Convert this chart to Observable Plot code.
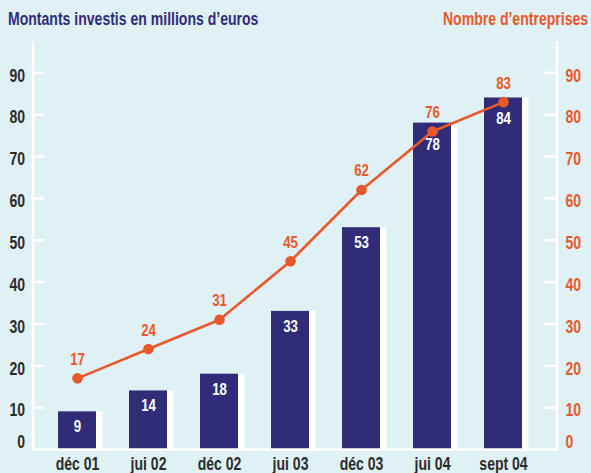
<!DOCTYPE html>
<html>
<head>
<meta charset="utf-8">
<script src="https://cdn.jsdelivr.net/npm/d3@7"></script>
<script src="https://cdn.jsdelivr.net/npm/@observablehq/plot@0.6"></script>
<style>
  html, body { margin: 0; padding: 0; background: #dff1f4; }
  body { width: 591px; height: 473px; overflow: hidden; font-family: "Liberation Sans", Arial, sans-serif; font-weight: bold; }
  #header { position: relative; height: 36px; }
  #header span { position: absolute; top: 9px; font-size: 18px; line-height: normal; white-space: nowrap; display: inline-block; transform: scaleX(0.78); }
  #tl { left: 8px; color: #2f2d7a; transform-origin: left center; }
  #tr { right: 3px; color: #e8582a; transform-origin: right center; }
  #chart svg { display: block; background: transparent; }
</style>
</head>
<body>
<div id="header"><span id="tl">Montants investis en millions d’euros</span><span id="tr">Nombre d’entreprises</span></div>
<div id="chart"></div>
<script>
const periodes = ["déc 01", "jui 02", "déc 02", "jui 03", "déc 03", "jui 04", "sept 04"];
const montants = [9, 14, 18, 33, 53, 78, 84];
const entreprises = [17, 24, 31, 45, 62, 76, 83];
const ticksY = [0, 10, 20, 30, 40, 50, 60, 70, 80, 90];

const navy = "#312c78";
const orange = "#e8582a";
const dark = "#2b2b2b";
const font = "'Liberation Sans', Arial, sans-serif";
const condense = 0.78;

const data = periodes.map((p, i) => ({periode: p, montant: montants[i], entreprises: entreprises[i]}));
const close = data.filter(d => Math.abs(d.montant - d.entreprises) < 4);
const far = data.filter(d => Math.abs(d.montant - d.entreprises) >= 4);
const ticksIn = ticksY.filter(t => t > 0);
const frameW = 524;

const chart = Plot.plot({
  width: 591,
  height: 437,
  marginLeft: 32.5,
  marginRight: 34.5,
  marginTop: 6,
  marginBottom: 24,
  style: {background: "transparent", fontFamily: font, fontWeight: "bold", fontSize: "18px"},
  x: {type: "band", domain: periodes, range: [26.2, 554.8], paddingInner: 0.458, paddingOuter: 0.4},
  y: {domain: [0, 90], range: [413, 36.35]},
  marks: [
    Plot.barY(data, {x: "periode", y: "montant", fill: "white", dx: 6.5}),
    Plot.barY(data, {x: "periode", y: "montant", fill: navy}),
    Plot.frame({anchor: "left", stroke: "white", strokeWidth: 2.5}),
    Plot.frame({anchor: "right", stroke: "white", strokeWidth: 2.5}),
    Plot.frame({anchor: "bottom", stroke: "white", strokeWidth: 2.7}),
    Plot.ruleY(ticksIn, {stroke: "white", strokeWidth: 2.5, insetRight: frameW - 11.5}),
    Plot.ruleY(ticksIn, {stroke: "white", strokeWidth: 2.5, insetLeft: frameW - 12}),
    Plot.axisY(ticksIn, {anchor: "left", tickSize: 0, tickPadding: 8, dy: 3, color: dark, label: null, fontSize: 18, fontWeight: "bold"}),
    Plot.axisY([0], {anchor: "left", tickSize: 0, tickPadding: 8, dy: -7, color: dark, label: null, fontSize: 18, fontWeight: "bold"}),
    Plot.axisY(ticksIn, {anchor: "right", tickSize: 0, tickPadding: 8.5, dy: 3, color: orange, label: null, fontSize: 18, fontWeight: "bold"}),
    Plot.axisY([0], {anchor: "right", tickSize: 0, tickPadding: 8.5, dy: -7, color: orange, label: null, fontSize: 18, fontWeight: "bold"}),
    Plot.axisX({anchor: "bottom", tickSize: 0, tickPadding: 7.5, color: dark, label: null, fontSize: 18, fontWeight: "bold"}),
    Plot.line(data, {x: "periode", y: "entreprises", stroke: orange, strokeWidth: 2.6}),
    Plot.dot(data, {x: "periode", y: "entreprises", r: 5.3, fill: orange, stroke: null}),
    Plot.text(data, {x: "periode", y: "entreprises", text: d => String(d.entreprises), dy: -19, fill: orange, fontSize: 17, fontWeight: "bold"}),
    Plot.text(far, {x: "periode", y: "montant", text: d => String(d.montant), dy: 15, fill: "white", fontSize: 17, fontWeight: "bold"}),
    Plot.text(close, {x: "periode", y: "montant", text: d => String(d.montant), dy: 21, fill: "white", fontSize: 17, fontWeight: "bold"})
  ]
});

// Condense every text horizontally around its own anchor point (only x offsets are moved)
d3.select(chart).selectAll("text").each(function () {
  const t = this.getAttribute("transform") || "";
  const xAttr = this.getAttribute("x");
  const dxAttr = this.getAttribute("dx");
  const num = s => s != null && /^-?[\d.]+(px)?$/.test(s.trim());
  let shift = 0;
  if (num(xAttr)) { shift += parseFloat(xAttr); this.removeAttribute("x"); }
  if (num(dxAttr)) { shift += parseFloat(dxAttr); this.removeAttribute("dx"); }
  this.setAttribute("transform", `${t} translate(${shift},0) scale(${condense},1)`);
});

document.getElementById("chart").appendChild(chart);
</script>
</body>
</html>
